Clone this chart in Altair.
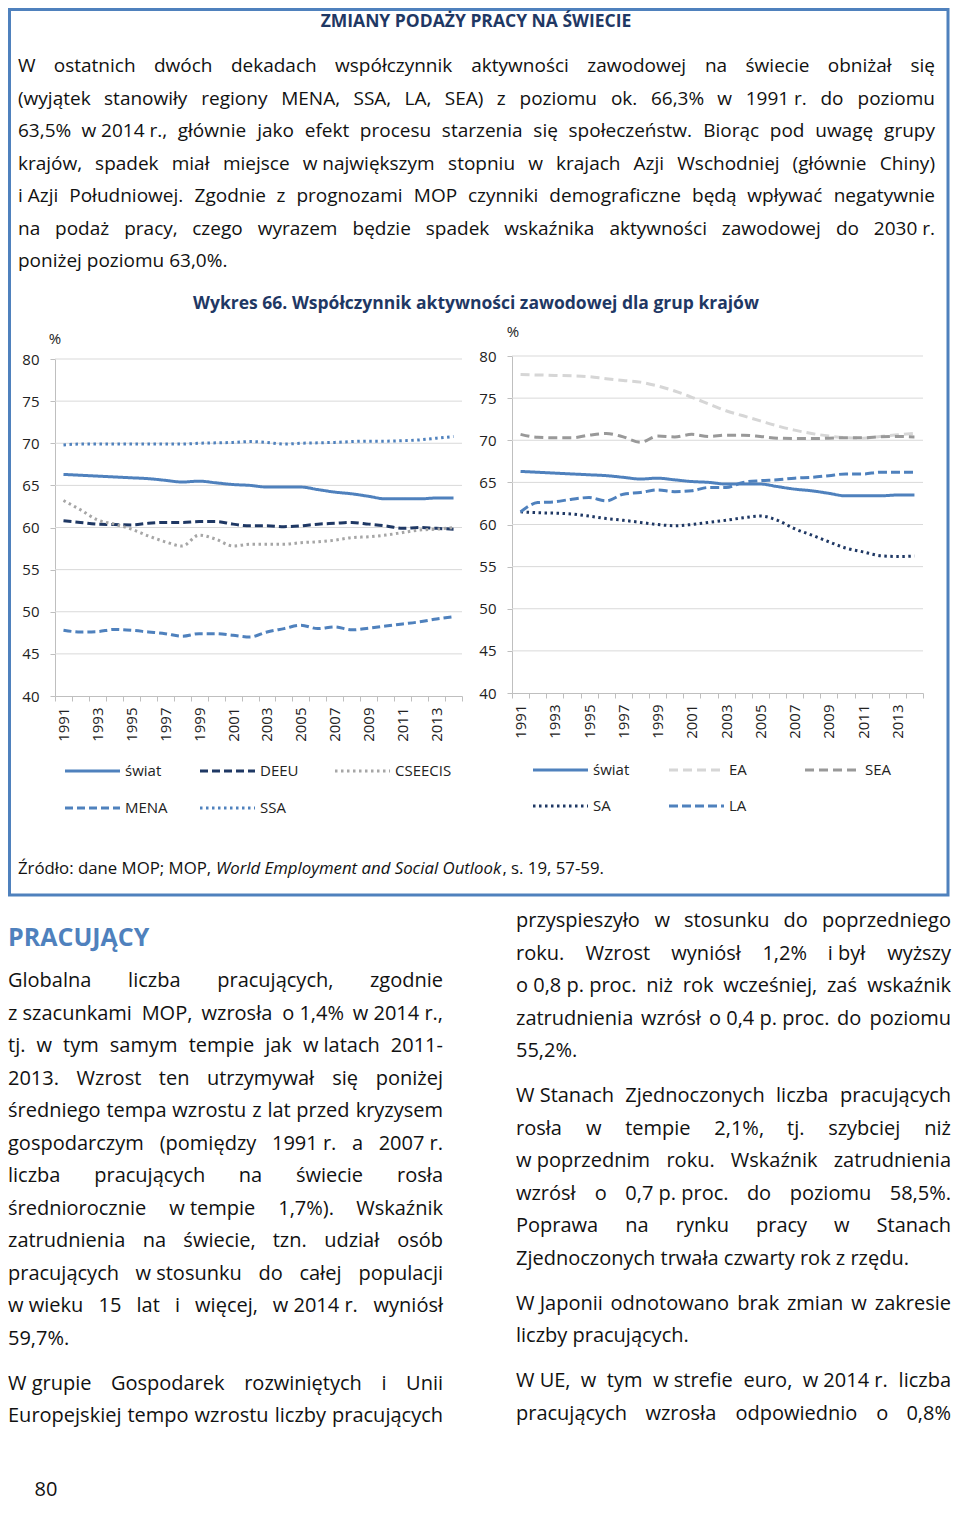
import altair as alt
import pandas as pd

# ---------------- data ----------------
years = list(range(1991, 2015))

left_series = ["świat", "DEEU", "CSEECIS", "MENA", "SSA"]
right_series = ["świat", "EA", "SEA", "SA", "LA"]

swiat = [66.3, 66.2, 66.1, 66.0, 65.9, 65.8, 65.6, 65.4, 65.5, 65.3, 65.1, 65.0,
         64.8, 64.8, 64.8, 64.5, 64.2, 64.0, 63.7, 63.4, 63.4, 63.4, 63.5, 63.5]
deeu = [60.8, 60.6, 60.4, 60.35, 60.3, 60.5, 60.6, 60.6, 60.7, 60.7, 60.4, 60.2,
        60.2, 60.1, 60.2, 60.4, 60.5, 60.6, 60.4, 60.2, 59.9, 60.0, 59.9, 59.8]
cseecis = [63.2, 62.1, 60.9, 60.4, 59.8, 59.0, 58.3, 57.8, 59.1, 58.6, 57.8, 58.0,
           58.0, 58.0, 58.2, 58.3, 58.5, 58.8, 58.9, 59.1, 59.4, 59.7, 59.8, 60.0]
mena = [47.8, 47.6, 47.65, 47.9, 47.8, 47.6, 47.4, 47.1, 47.4, 47.4, 47.2, 47.0,
        47.6, 48.0, 48.4, 48.0, 48.2, 47.85, 48.05, 48.3, 48.55, 48.8, 49.15, 49.4]
ssa = [69.8, 69.9, 69.9, 69.9, 69.9, 69.9, 69.9, 69.9, 70.0, 70.05, 70.1, 70.2,
       70.1, 69.9, 70.0, 70.05, 70.1, 70.2, 70.25, 70.25, 70.3, 70.4, 70.6, 70.8]
ea = [77.8, 77.75, 77.7, 77.65, 77.55, 77.3, 77.1, 76.9, 76.45, 75.85, 75.1, 74.3,
      73.5, 72.9, 72.3, 71.7, 71.2, 70.8, 70.5, 70.3, 70.25, 70.45, 70.65, 70.8]
sea = [70.7, 70.35, 70.3, 70.3, 70.6, 70.8, 70.4, 69.75, 70.5, 70.4, 70.7, 70.45,
       70.6, 70.6, 70.45, 70.25, 70.2, 70.2, 70.25, 70.3, 70.3, 70.4, 70.45, 70.4]
sa = [61.5, 61.4, 61.35, 61.25, 61.0, 60.7, 60.5, 60.25, 60.0, 59.85, 60.0, 60.25,
      60.5, 60.8, 61.0, 60.5, 59.5, 58.75, 57.95, 57.2, 56.75, 56.3, 56.2, 56.25]
la = [61.5, 62.6, 62.7, 63.0, 63.2, 62.8, 63.6, 63.8, 64.1, 63.9, 64.0, 64.4,
      64.4, 65.0, 65.2, 65.3, 65.5, 65.6, 65.8, 66.0, 66.0, 66.2, 66.2, 66.2]

y_ticks = [40, 45, 50, 55, 60, 65, 70, 75, 80]
grid_values = [45, 50, 55, 60, 65, 70, 75, 80]

title_text = "ZMIANY PODAŻY PRACY NA ŚWIECIE"
chart_title = "Wykres 66. Współczynnik aktywności zawodowej dla grup krajów"
source_parts = ["Źródło: dane MOP; MOP,", "World Employment and Social Outlook", ", s. 19, 57-59."]
heading_text = "PRACUJĄCY"
page_number = "80"

# "~" marks a non-stretching space
top_lines = [
    "W ostatnich dwóch dekadach współczynnik aktywności zawodowej na świecie obniżał się",
    "(wyjątek stanowiły regiony MENA, SSA, LA, SEA) z poziomu ok. 66,3% w 1991~r. do poziomu",
    "63,5% w~2014~r., głównie jako efekt procesu starzenia się społeczeństw. Biorąc pod uwagę grupy",
    "krajów, spadek miał miejsce w~największym stopniu w krajach Azji Wschodniej (głównie Chiny)",
    "i~Azji Południowej. Zgodnie z prognozami MOP czynniki demograficzne będą wpływać negatywnie",
    "na podaż pracy, czego wyrazem będzie spadek wskaźnika aktywności zawodowej do 2030~r.",
    "poniżej poziomu 63,0%.",
]
top_last = [False, False, False, False, False, False, True]

left_col = [
    ["Globalna liczba pracujących, zgodnie",
     "z~szacunkami MOP, wzrosła o~1,4% w~2014~r.,",
     "tj. w tym samym tempie jak w~latach 2011-",
     "2013. Wzrost ten utrzymywał się poniżej",
     "średniego tempa wzrostu z lat przed kryzysem",
     "gospodarczym (pomiędzy 1991~r. a 2007~r.",
     "liczba pracujących na świecie rosła",
     "średniorocznie w~tempie 1,7%). Wskaźnik",
     "zatrudnienia na świecie, tzn. udział osób",
     "pracujących w~stosunku do całej populacji",
     "w~wieku 15 lat i więcej, w~2014~r. wyniósł",
     "59,7%."],
    ["W~grupie Gospodarek rozwiniętych i Unii",
     "Europejskiej tempo wzrostu liczby pracujących|"],
]
right_col = [
    ["przyspieszyło w stosunku do poprzedniego",
     "roku. Wzrost wyniósł 1,2% i~był wyższy",
     "o~0,8~p.~proc. niż rok wcześniej, zaś wskaźnik",
     "zatrudnienia wzrósł o~0,4~p.~proc. do poziomu",
     "55,2%."],
    ["W~Stanach Zjednoczonych liczba pracujących",
     "rosła w tempie 2,1%, tj. szybciej niż",
     "w~poprzednim roku. Wskaźnik zatrudnienia",
     "wzrósł o 0,7~p.~proc. do poziomu 58,5%.",
     "Poprawa na rynku pracy w Stanach",
     "Zjednoczonych trwała czwarty rok z rzędu."],
    ["W~Japonii odnotowano brak zmian w zakresie",
     "liczby pracujących."],
    ["W~UE, w tym w~strefie euro, w~2014~r. liczba",
     "pracujących wzrosła odpowiednio o 0,8%|"],
]

# ---------------- styles ----------------
BLUE = "#4F81BD"
NAVY = "#1F3864"
GRAY = "#A6A6A6"
LGRAY = "#D6D6D6"
MGRAY = "#999999"
TXT = "#111111"
FONT = "Open Sans"

style_left = {
    "świat": (BLUE, [1, 0]),
    "DEEU": (NAVY, [8, 4]),
    "CSEECIS": (GRAY, [2.5, 3.5]),
    "MENA": (BLUE, [8, 4]),
    "SSA": (BLUE, [2.5, 3.5]),
}
style_right = {
    "świat": (BLUE, [1, 0]),
    "EA": (LGRAY, [9, 5]),
    "SEA": (MGRAY, [9, 5]),
    "SA": (NAVY, [2.5, 3.5]),
    "LA": (BLUE, [9, 4]),
}

W, H = 944, 1496

# ---------------- text width estimate (Open Sans advance widths / 2048) ----------------
ADV = {" ": 532, "a": 1139, "b": 1255, "c": 975, "d": 1255, "e": 1149, "f": 694, "g": 1122,
       "h": 1257, "i": 518, "j": 518, "k": 1075, "l": 518, "m": 1905, "n": 1257, "o": 1237,
       "p": 1255, "q": 1255, "r": 836, "s": 977, "t": 723, "u": 1257, "v": 1026, "w": 1593,
       "x": 1073, "y": 1028, "z": 977, "A": 1296, "B": 1327, "C": 1292, "D": 1493, "E": 1139,
       "F": 1057, "G": 1491, "H": 1511, "I": 596, "J": 555, "K": 1219, "L": 1073, "M": 1849,
       "N": 1544, "O": 1595, "P": 1233, "Q": 1595, "R": 1266, "S": 1124, "T": 1135, "U": 1489,
       "V": 1219, "W": 1872, "X": 1182, "Y": 1139, "Z": 1139, ".": 545, ",": 502, ";": 545,
       ":": 545, "%": 1675, "(": 586, ")": 586, "-": 659, "ł": 545}
for d in "0123456789":
    ADV[d] = 1171
BASE = {"ą": "a", "ć": "c", "ę": "e", "ń": "n", "ó": "o", "ś": "s", "ź": "z", "ż": "z",
        "Ą": "A", "Ś": "S", "Ż": "Z", "Ź": "Z", "Ó": "O"}


def tw(s, size):
    return sum(ADV.get(BASE.get(ch, ch), 1100) for ch in s) * size / 2048.0


def layout(lines, left, right, y0, dy, size, last_flags, rows):
    for i, line in enumerate(lines):
        y = y0 + i * dy
        just = not last_flags[i]
        line = line.rstrip("|")
        tokens = [t.replace("~", " ") for t in line.split(" ")]
        if not just or len(tokens) == 1:
            rows.append({"t": " ".join(tokens), "px": left, "py": y, "al": "L"})
            continue
        widths = [tw(t, size) for t in tokens]
        gap = (right - left - sum(widths)) / (len(tokens) - 1)
        x = left
        for k, (t, w) in enumerate(zip(tokens, widths)):
            if k == len(tokens) - 1:
                rows.append({"t": t, "px": right, "py": y, "al": "R"})
            else:
                rows.append({"t": t, "px": x, "py": y, "al": "L"})
            x += w + gap


one = pd.DataFrame({"k": [0]})


def txt(text, x, y, size, color=TXT, weight="normal", align="left", style="normal"):
    return alt.Chart(one).mark_text(
        text=text, font=FONT, fontSize=size, fontWeight=weight, color=color,
        align=align, baseline="middle", fontStyle=style
    ).encode(x=alt.value(x), y=alt.value(y))


def text_layers(rows, size):
    df = pd.DataFrame(rows)
    out = []
    for al, align in (("L", "left"), ("R", "right")):
        sub = df[df["al"] == al]
        out.append(
            alt.Chart(sub).mark_text(font=FONT, fontSize=size, color=TXT, align=align,
                                     baseline="middle")
            .encode(x=alt.X("px:Q", scale=None, axis=None),
                    y=alt.Y("py:Q", scale=None, axis=None),
                    text="t:N")
        )
    return out


layers = []

# frame
layers.append(
    alt.Chart(one).mark_rect(fillOpacity=0, stroke=BLUE, strokeWidth=3)
    .encode(x=alt.value(1.5), x2=alt.value(940), y=alt.value(1.5), y2=alt.value(887))
)

# header texts
layers.append(txt(title_text, 468, 14, 17.5, color=NAVY, weight="bold", align="center"))
layers.append(txt(chart_title, 468, 296, 17.5, color=NAVY, weight="bold", align="center"))

# top paragraph
TL, TR = 10, 927
nat = max(tw(l.replace("~", " ").rstrip("|"), 1) for l in top_lines)
top_size = min(19.0, round(0.985 * (TR - TL) / nat, 2))
rows = []
layout(top_lines, TL, TR, 58, 32.5, top_size, top_last, rows)
layers += text_layers(rows, top_size)

# bottom columns
BODY = 20
rows = []
y = 973
for para in left_col:
    flags = [False] * len(para)
    if not para[-1].endswith("|"):
        flags[-1] = True
    layout(para, 0, 435, y, 32.5, BODY, flags, rows)
    y += 32.5 * len(para) + 12.5
y = 913
for para in right_col:
    flags = [False] * len(para)
    if not para[-1].endswith("|"):
        flags[-1] = True
    layout(para, 508, 943, y, 32.5, BODY, flags, rows)
    y += 32.5 * len(para) + 12.5
layers += text_layers(rows, BODY)

layers.append(txt(heading_text, 0, 930, 25, color=BLUE, weight="bold"))
layers.append(txt(page_number, 38, 1482, 20, align="center"))

# source line
SX, SY, SS = 10, 861, 16.8
x1 = SX + tw(source_parts[0] + " ", SS)
x2 = x1 + tw(source_parts[1], SS) * 0.95
layers.append(txt(source_parts[0], SX, SY, SS))
layers.append(txt(source_parts[1], x1, SY, SS, style="italic"))
layers.append(txt(source_parts[2], x2, SY, SS))


# ---------------- the two panels ----------------
def panel(series_names, values, style, x0, x1, ybot, ytop, pct_x, pct_y):
    out = []
    yscale = alt.Scale(domain=[40, 80], range=[ybot, ytop], nice=False, zero=False)
    grid = pd.DataFrame({"v": grid_values})
    out.append(
        alt.Chart(grid).mark_rule(color="#D9D9D9", strokeWidth=1)
        .encode(y=alt.Y("v:Q", scale=yscale, axis=None), x=alt.value(x0), x2=alt.value(x1))
    )
    recs = []
    for name, vals in zip(series_names, values):
        for yr, v in zip(years, vals):
            recs.append({"series": name, "year": yr, "value": v})
    df = pd.DataFrame(recs)
    out.append(
        alt.Chart(df).mark_line(interpolate="monotone", strokeWidth=3)
        .encode(
            x=alt.X("year:O", bandPosition=0.5,
                    scale=alt.Scale(type="band", range=[x0, x1], paddingInner=0, paddingOuter=0),
                    axis=alt.Axis(orient="bottom", offset=-(H - ybot), title=None, grid=False,
                                  tickBand="extent", tickSize=5, tickColor="#BFBFBF",
                                  domainColor="#BFBFBF", labelAngle=270, labelPadding=6,
                                  labelFont=FONT, labelFontSize=15, labelColor="#222222",
                                  labelOverlap=False,
                                  labelExpr="datum.value % 2 == 1 ? datum.label : ''")),
            y=alt.Y("value:Q", scale=yscale,
                    axis=alt.Axis(orient="left", offset=-x0, values=y_ticks, title=None,
                                  grid=False, tickSize=5, tickColor="#BFBFBF",
                                  domainColor="#BFBFBF", labelPadding=11, labelFont=FONT,
                                  labelFontSize=15, labelColor="#222222")),
            color=alt.Color("series:N", legend=None,
                            scale=alt.Scale(domain=series_names,
                                            range=[style[s][0] for s in series_names])),
            strokeDash=alt.StrokeDash("series:N", legend=None,
                                      scale=alt.Scale(domain=series_names,
                                                      range=[style[s][1] for s in series_names])),
            detail="series:N",
        )
    )
    out.append(txt("%", pct_x, pct_y, 15, color="#222222", align="center"))
    return out


layers += panel(left_series, [swiat, deeu, cseecis, mena, ssa], style_left,
                47, 454, 688, 351, 47, 331)
layers += panel(right_series, [swiat, ea, sea, sa, la], style_right,
                504, 915, 685, 348, 505, 324)


# ---------------- legends ----------------
def legend(series_names, style, lx, ly, colw, rowh):
    out = []
    for i, name in enumerate(series_names):
        r, c = divmod(i, 3)
        x = lx + c * colw
        y = ly + r * rowh
        col, dash = style[name]
        out.append(
            alt.Chart(one).mark_rule(color=col, strokeWidth=3, strokeDash=dash)
            .encode(x=alt.value(x), x2=alt.value(x + 55), y=alt.value(y))
        )
        out.append(txt(name, x + 60, y, 15, color="#222222"))
    return out


layers += legend(left_series, style_left, 57, 763, 135, 37)
layers += legend(right_series, style_right, 525, 762, 136, 36)

chart = (
    alt.layer(*layers)
    .resolve_scale(x="independent", y="independent", color="independent",
                   strokeDash="independent")
    .resolve_axis(x="independent", y="independent")
    .properties(width=W, height=H, padding=0, autosize=alt.AutoSizeParams(type="none"),
                background="white")
    .configure_view(stroke=None)
)

chart.save("out.html", embed_options={"renderer": "svg", "actions": False})
